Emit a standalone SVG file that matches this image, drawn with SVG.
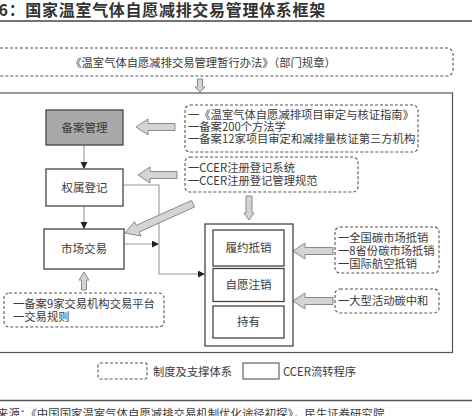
<svg xmlns="http://www.w3.org/2000/svg" width="472" height="416" viewBox="0 0 472 416">
<style>
text{font-family:"Noto Sans CJK SC","Liberation Sans",sans-serif;fill:#3a3a3a;font-size:11.3px}
.c{text-anchor:middle}
.dash{fill:none;stroke:#555;stroke-width:1.1;stroke-dasharray:3,2}
.box{fill:#fff;stroke:#444;stroke-width:1.3}
.frame{fill:none;stroke:#555;stroke-width:1.2}
.ha{fill:#d4d4d4;stroke:#8a8a8a;stroke-width:1}
.ln{fill:none;stroke:#999;stroke-width:1.1}
</style>
<defs>
<marker id="ah" viewBox="0 0 8 8" refX="7" refY="4" markerWidth="7" markerHeight="7" markerUnits="userSpaceOnUse" orient="auto">
<path d="M0,0 L8,4 L0,8 Z" fill="#222"/>
</marker>
</defs>
<rect width="472" height="416" fill="#fff"/>
<g id="title">
<text x="-1.5" y="16" style="font-size:16px;font-weight:bold;fill:#333;letter-spacing:0.7px">6：国家温室气体自愿减排交易管理体系框架</text>
<line x1="0" y1="21" x2="472" y2="21" stroke="#444" stroke-width="1.6"/>
</g>
<g id="top-rule">
<rect x="-6" y="48" width="459" height="28" rx="6" class="dash"/>
<text class="c" x="203" y="67">《温室气体自愿减排交易管理暂行办法》（部门规章）</text>
</g>
<g id="main-frame">
<rect x="-2" y="93" width="454.5" height="259.5" class="frame"/>
</g>
<g id="connectors">
<path class="ha" d="M200,92 L195,87 L197.5,87 L197.5,79 L202.5,79 L202.5,87 L205,87 Z"/>
<line class="ln" x1="84" y1="145" x2="84" y2="168" marker-end="url(#ah)"/>
<line class="ln" x1="84" y1="206" x2="84" y2="228" marker-end="url(#ah)"/>
<polyline class="ln" points="123,185 159,185 159,274 204,274" marker-end="url(#ah)"/>
<line class="ln" x1="124" y1="244" x2="158" y2="244" marker-end="url(#ah)"/>
<path class="ha" d="M136,127 L148,119 L148,123.5 L175,123.5 L175,130.5 L148,130.5 L148,135 Z"/>
<path class="ha" d="M138,175 L150,167 L150,171.5 L177,171.5 L177,178.5 L150,178.5 L150,183 Z"/>
<path class="ha" d="M293,251 L305,243 L305,247.5 L333,247.5 L333,254.5 L305,254.5 L305,259 Z"/>
<path class="ha" d="M293,301 L305,293 L305,297.5 L333,297.5 L333,304.5 L305,304.5 L305,309 Z"/>
<path class="ha" d="M249,220 L244,213 L246,213 L246,196 L252,196 L252,213 L254,213 Z"/>
<path class="ha" d="M84,272 L79,280 L81.5,280 L81.5,290 L86.5,290 L86.5,280 L89,280 Z"/>
<path class="ha" d="M125,233 L134.5,221.5 L136.2,225.4 L191.5,200.5 L194.5,207 L139.2,232 L141,236 Z"/>
</g>
<g id="beian">
<rect x="46" y="110" width="77" height="35" fill="#a9a9a9" stroke="#444" stroke-width="1.3"/>
<text class="c" x="84.5" y="132" style="font-size:11.5px">备案管理</text>
</g>
<g id="quanshu">
<rect x="46" y="169" width="77" height="37" class="box"/>
<text class="c" x="84.5" y="192" style="font-size:11.5px">权属登记</text>
</g>
<g id="shichang">
<rect x="44" y="229" width="80" height="40" class="box"/>
<text class="c" x="84" y="253" style="font-size:11.5px">市场交易</text>
</g>
<g id="support-1">
<rect x="185" y="105" width="233" height="47" rx="5" class="dash"/>
<text x="188" y="118.5">一《温室气体自愿减排项目审定与核证指南》</text>
<text x="188" y="130.5">一备案200个方法学</text>
<text x="188" y="142.5">一备案12家项目审定和减排量核证第三方机构</text>
</g>
<g id="support-2">
<rect x="185" y="157" width="173" height="35" rx="5" class="dash"/>
<text x="188" y="171.5">一CCER注册登记系统</text>
<text x="188" y="185">一CCER注册登记管理规范</text>
</g>
<g id="support-3">
<rect x="4" y="293" width="160" height="34" rx="5" class="dash"/>
<text x="13" y="307.5">一备案9家交易机构交易平台</text>
<text x="13" y="321">一交易规则</text>
</g>
<g id="usage">
<rect x="205" y="224" width="88" height="122" class="box"/>
</g>
<g id="lvyue">
<rect x="213" y="230" width="71" height="36" class="box"/>
<text class="c" x="248.5" y="252" style="font-size:11.5px">履约抵销</text>
</g>
<g id="ziyuan">
<rect x="213" y="268.5" width="71" height="33" class="box"/>
<text class="c" x="248.5" y="289" style="font-size:11.5px">自愿注销</text>
</g>
<g id="chiyou">
<rect x="213" y="306" width="71" height="32" class="box"/>
<text class="c" x="248.5" y="326" style="font-size:11.5px">持有</text>
</g>
<g id="support-4">
<rect x="335" y="227" width="104" height="46" rx="5" class="dash"/>
<text x="338" y="241.5">一全国碳市场抵销</text>
<text x="338" y="254.5">一8省份碳市场抵销</text>
<text x="338" y="267.5">一国际航空抵销</text>
</g>
<g id="support-5">
<rect x="335" y="289" width="104" height="24" rx="5" class="dash"/>
<text x="338" y="305">一大型活动碳中和</text>
</g>
<g id="legend">
<rect x="98" y="363" width="49" height="16" rx="2" class="dash"/>
<text x="153" y="376">制度及支撑体系</text>
<rect x="243" y="363" width="36" height="16" fill="#fff" stroke="#444" stroke-width="1"/>
<text x="283" y="376">CCER流转程序</text>
</g>
<g id="source">
<line x1="0" y1="400.5" x2="472" y2="400.5" stroke="#555" stroke-width="1.4"/>
<text x="-3" y="418" style="font-size:11.4px">来源：《中国国家温室气体自愿减排交易机制优化途径初探》，民生证券研究院</text>
</g>
</svg>
